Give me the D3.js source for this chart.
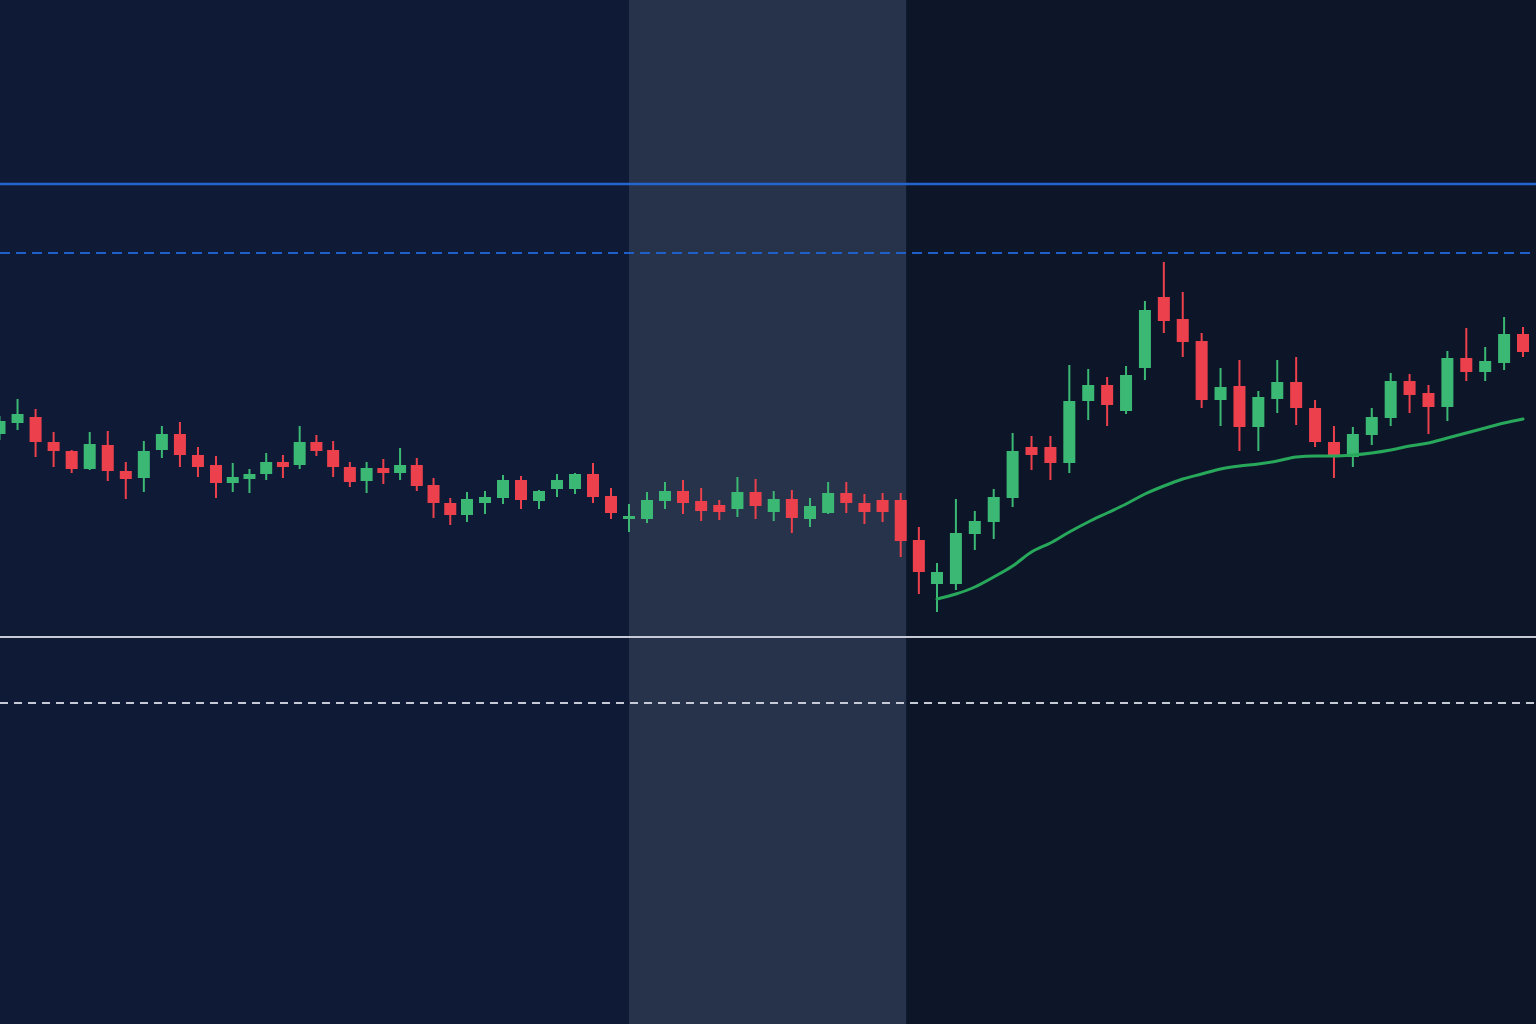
<!DOCTYPE html>
<html>
<head>
<meta charset="utf-8">
<script src="https://cdn.jsdelivr.net/npm/d3@7"></script>
<style>
  html, body { margin: 0; padding: 0; background: #0f1b36; }
  svg { display: block; }
</style>
</head>
<body>
<svg id="chart" width="1536" height="1024"></svg>
<script>
// ---- data (price units) ----
const openP  = [59.0,60.1,60.7,58.2,57.3,55.5,57.9,55.3,54.6,57.4,59.0,56.9,55.9,54.1,54.5,55.0,56.2,55.9,58.2,57.4,55.7,54.3,55.6,55.1,55.9,53.9,52.1,50.9,52.1,52.6,54.4,52.3,53.5,53.5,55.0,52.8,50.5,50.5,52.3,53.3,52.3,51.9,51.5,53.2,51.2,52.5,50.5,51.1,53.1,52.1,52.4,52.4,48.4,44.0,44.0,49.0,50.2,52.6,57.7,57.7,56.1,62.3,63.9,61.3,65.6,72.7,70.5,68.3,62.4,63.8,59.7,62.5,64.2,61.6,58.2,56.7,58.9,60.6,64.3,63.1,61.7,66.6,65.2,66.1,69.0];
const closeP = [60.3,61.0,58.2,57.3,55.5,58.0,55.3,54.5,57.3,59.0,56.9,55.7,54.1,54.7,55.0,56.2,55.7,58.2,57.3,55.7,54.2,55.6,55.1,55.9,53.8,52.1,50.9,52.5,52.7,54.4,52.4,53.3,54.4,55.0,52.7,51.1,50.8,52.4,53.3,52.1,51.3,51.2,53.2,51.8,52.5,50.6,51.8,53.1,52.1,51.2,51.2,48.3,45.2,45.2,49.1,50.3,52.7,57.3,56.9,56.1,62.3,63.9,61.9,64.9,71.4,70.3,68.2,62.4,63.7,59.7,62.7,64.2,61.6,58.2,56.9,59.0,60.7,64.3,62.9,61.7,66.6,65.2,66.3,69.0,67.2];
const highP  = [60.8,62.5,61.5,59.2,57.4,59.2,59.3,56.2,58.3,59.8,60.2,57.7,56.8,56.1,55.5,57.1,56.9,59.8,58.9,58.3,56.2,56.2,56.5,57.6,56.6,54.6,52.6,53.2,53.3,54.9,54.8,53.4,55.0,55.1,56.1,53.6,52.0,53.2,54.2,54.4,53.6,52.4,54.7,54.5,53.3,53.4,52.6,54.2,54.2,53.0,53.1,53.1,49.7,46.1,52.5,51.3,53.5,59.1,58.8,58.8,65.9,65.5,64.7,65.8,72.3,76.2,73.2,69.1,65.6,66.4,63.3,66.4,66.7,62.4,59.8,59.7,61.6,65.1,65.0,63.9,67.3,69.6,67.7,70.7,69.7];
const lowP   = [58.4,59.4,56.7,55.7,55.1,55.4,54.3,52.5,53.2,56.6,55.7,54.7,52.6,53.2,53.1,54.4,54.6,55.5,56.8,54.7,53.7,53.1,54.0,54.4,53.3,50.6,49.9,50.2,51.0,52.0,51.5,51.5,52.7,53.0,52.1,50.5,49.2,50.1,51.5,51.0,50.3,50.4,50.7,50.5,50.3,49.1,49.7,51.0,51.1,50.0,50.2,46.7,43.0,41.2,43.4,47.4,48.5,51.7,55.4,54.4,55.1,60.4,59.8,61.0,64.4,69.1,66.7,61.6,59.8,57.3,57.3,61.1,59.9,57.7,54.6,55.7,57.9,59.8,61.1,59.0,60.3,64.3,64.3,65.4,66.7];
const categories = openP.map((_, i) => i);           // session index
const maStart = 53;                                    // first index with moving average
const maValues = [42.5,43.0,43.7,44.7,45.8,47.2,48.1,49.2,50.2,51.1,52.0,53.0,53.8,54.5,55.0,55.5,55.8,56.0,56.3,56.7,56.8,56.8,56.9,57.1,57.4,57.8,58.1,58.6,59.1,59.6,60.1,60.5];
const levelSolidBlue = 84.0;
const levelDashBlue  = 77.1;
const levelSolidWhite = 38.7;
const levelDashWhite  = 32.1;
const highlightRange = [36, 51.3];                    // shaded session (index units)

// ---- layout ----
const W = 1536, H = 1024;
const svg = d3.select('#chart');

// session spacing is uneven in the source, so a polylinear index scale is used
const x = d3.scaleLinear().domain([0, 12, 27, 39, 53, 84]).range([-0.5, 216, 467, 683, 937, 1523]);
const y = d3.scaleLinear().domain([0, 102.4]).range([H, 0]);

const candles = categories.map(i => ({ i, o: openP[i], c: closeP[i], h: highP[i], l: lowP[i] }));
const ma = maValues.map((v, k) => ({ i: maStart + k, v }));

// backgrounds
svg.append('rect').attr('x', 0).attr('y', 0).attr('width', W).attr('height', H).attr('fill', '#0f1b36');
svg.append('rect').attr('x', x(highlightRange[1])).attr('y', 0)
  .attr('width', W - x(highlightRange[1])).attr('height', H).attr('fill', '#0d1629');
svg.append('rect').attr('x', x(highlightRange[0])).attr('y', 0)
  .attr('width', x(highlightRange[1]) - x(highlightRange[0])).attr('height', H)
  .attr('fill', '#27334a');

// horizontal levels
const levels = [
  { v: levelSolidBlue, color: '#2563cf', width: 2.5, dash: null },
  { v: levelDashBlue, color: '#1e5fc9', width: 2, dash: '10,6' },
  { v: levelSolidWhite, color: '#c5cad6', width: 2, dash: null },
  { v: levelDashWhite, color: '#c5cad6', width: 2, dash: '8,6' }
];
svg.append('g').selectAll('line').data(levels).join('line')
  .attr('x1', 0).attr('x2', W)
  .attr('y1', d => y(d.v)).attr('y2', d => y(d.v))
  .attr('stroke', d => d.color).attr('stroke-width', d => d.width)
  .attr('stroke-dasharray', d => d.dash);

// candles
const up = '#3bb873', down = '#ec414c';
const bodyW = 12;
const g = svg.append('g');
g.selectAll('line.wick').data(candles).join('line').attr('class', 'wick')
  .attr('x1', d => x(d.i)).attr('x2', d => x(d.i))
  .attr('y1', d => y(d.h)).attr('y2', d => y(d.l))
  .attr('stroke', d => d.c >= d.o ? up : down).attr('stroke-width', 2);
g.selectAll('rect.body').data(candles).join('rect').attr('class', 'body')
  .attr('x', d => x(d.i) - bodyW / 2)
  .attr('y', d => y(Math.max(d.o, d.c)))
  .attr('width', bodyW)
  .attr('height', d => Math.max(2, Math.abs(y(d.o) - y(d.c))))
  .attr('fill', d => d.c >= d.o ? up : down);

// moving average
svg.append('path').datum(ma)
  .attr('d', d3.line().x(d => x(d.i)).y(d => y(d.v)).curve(d3.curveMonotoneX))
  .attr('fill', 'none').attr('stroke', '#28a85b').attr('stroke-width', 3)
  .attr('stroke-linecap', 'round');
</script>
</body>
</html>
